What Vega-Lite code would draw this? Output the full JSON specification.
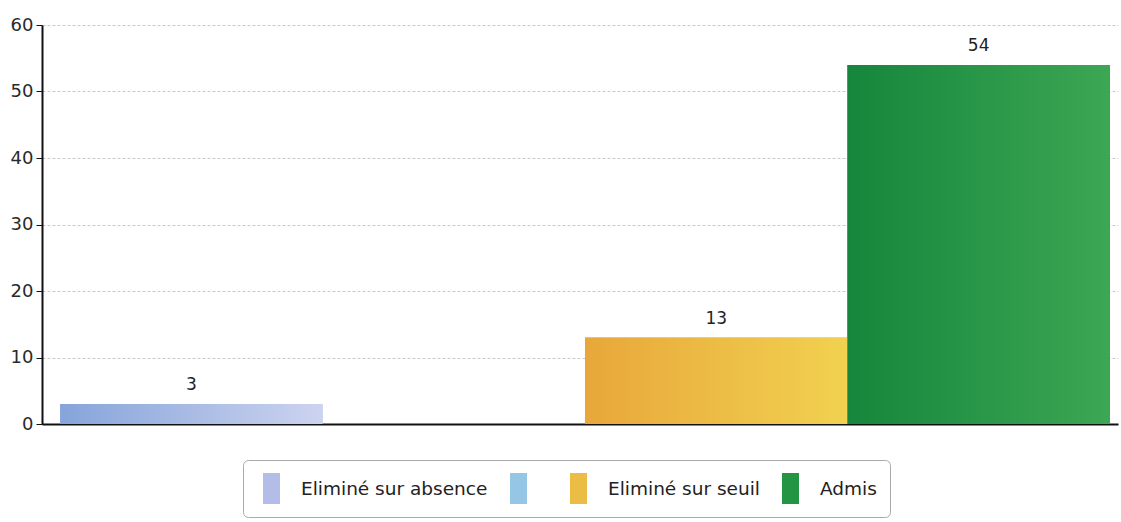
{
  "$schema": "https://vega.github.io/schema/vega-lite/v6.json",
  "width": 1076,
  "height": 399,
  "autosize": "none",
  "padding": {"left": 42, "top": 25, "right": 3, "bottom": 98},
  "background": "white",
  "data": {"values": [
    {"cat": "A", "label": "Eliminé sur absence", "value": 3},
    {"cat": "B", "label": "", "value": 0},
    {"cat": "C", "label": "Eliminé sur seuil", "value": 13},
    {"cat": "D", "label": "Admis", "value": 54}
  ]},
  "encoding": {
    "x": {"field": "cat", "type": "nominal", "sort": ["A", "B", "C", "D"],
      "scale": {"paddingInner": 0, "paddingOuter": 0.05, "align": 0.69},
      "axis": {"title": null, "labels": false, "ticks": false, "domainColor": "#111", "domainWidth": 2, "grid": false}},
    "y": {"field": "value", "type": "quantitative",
      "scale": {"domain": [0, 60], "nice": false},
      "axis": {"title": null, "values": [0, 10, 20, 30, 40, 50, 60], "labelFontSize": 18, "labelColor": "#2a2a2a", "labelFont": "DejaVu Sans",
        "labelPadding": 3, "tickSize": 6, "tickColor": "#111", "domainColor": "#111", "domainWidth": 2,
        "gridColor": "#c8c8c8", "gridDash": [3, 2], "gridWidth": 1}}
  },
  "layer": [
    {
      "mark": {"type": "bar"},
      "encoding": {
        "color": {"field": "cat", "type": "nominal",
          "scale": {"domain": ["A", "B", "C", "D"], "range": ["#b3bde8", "#95c6e6", "#ecbd45", "#249542"]},
          "legend": {
            "title": null, "orient": "none", "direction": "horizontal", "legendX": 201, "legendY": 435,
            "labelExpr": "datum.label == 'A' ? 'Eliminé sur absence' : datum.label == 'C' ? 'Eliminé sur seuil' : datum.label == 'D' ? 'Admis' : ''",
            "symbolType": "M-0.55,-1H0.55V1H-0.55Z", "symbolSize": 961, "symbolStrokeWidth": 0, "symbolOpacity": 1,
            "labelFontSize": 18.5, "labelFont": "DejaVu Sans", "labelColor": "#222", "labelOffset": 14, "columnPadding": 15, "labelLimit": 400,
            "strokeColor": "#aaa", "cornerRadius": 5, "padding": 13, "fillColor": "white"
          }}
      }
    },
    {
      "transform": [{"filter": "datum.cat == 'A'"}],
      "mark": {"type": "bar", "color": {"gradient": "linear", "x1": 0, "y1": 0, "x2": 1, "y2": 0, "stops": [{"offset": 0, "color": "#86a4da"}, {"offset": 1, "color": "#ccd3ef"}]}}
    },
    {
      "transform": [{"filter": "datum.cat == 'C'"}],
      "mark": {"type": "bar", "color": {"gradient": "linear", "x1": 0, "y1": 0, "x2": 1, "y2": 0, "stops": [{"offset": 0, "color": "#e8a73a"}, {"offset": 1, "color": "#f1d150"}]}}
    },
    {
      "transform": [{"filter": "datum.cat == 'D'"}],
      "mark": {"type": "bar", "color": {"gradient": "linear", "x1": 0, "y1": 0, "x2": 1, "y2": 0, "stops": [{"offset": 0, "color": "#16863c"}, {"offset": 1, "color": "#3ca754"}]}}
    },
    {
      "transform": [{"filter": "datum.value > 0"}],
      "mark": {"type": "text", "baseline": "bottom", "dy": -10, "fontSize": 17, "font": "DejaVu Sans", "color": "#222"},
      "encoding": {"text": {"field": "value", "type": "quantitative"}}
    }
  ],
  "config": {"view": {"stroke": null}}
}
